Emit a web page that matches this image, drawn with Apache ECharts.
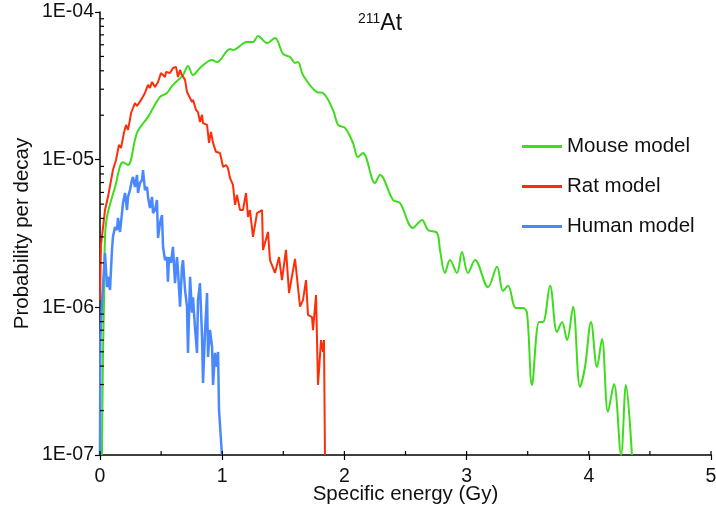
<!DOCTYPE html>
<html>
<head>
<meta charset="utf-8">
<script src="https://cdn.jsdelivr.net/npm/echarts@6/dist/echarts.min.js"></script>
<style>
  html, body { margin: 0; padding: 0; background: #fff; }
  #chart { width: 716px; height: 510px; }
</style>
</head>
<body>
<div id="chart"></div>
<script>
// --- data: [specific energy (Gy), probability per decay] ---
const mouseData = [
  [0.016, 1e-7], [0.025, 5.1e-7], [0.033, 1.1e-6], [0.04, 2.86e-6], [0.057, 4.1e-6],
  [0.123, 6.5e-6], [0.188, 9.6e-6], [0.229, 9.2e-6], [0.303, 1.52e-5], [0.393, 1.95e-5],
  [0.491, 2.66e-5], [0.548, 2.83e-5], [0.597, 3.21e-5], [0.679, 3.74e-5], [0.72, 4.3e-5],
  [0.761, 3.74e-5], [0.818, 4.18e-5], [0.917, 4.73e-5], [0.957, 4.58e-5], [1.064, 5.62e-5],
  [1.088, 5.53e-5], [1.203, 6.26e-5], [1.252, 6.26e-5], [1.293, 6.89e-5], [1.367, 6.17e-5],
  [1.432, 6.67e-5], [1.498, 5.2e-5], [1.555, 4.96e-5], [1.596, 4.52e-5], [1.62, 4.58e-5],
  [1.661, 3.74e-5], [1.776, 2.87e-5], [1.825, 2.83e-5], [1.907, 2.17e-5], [1.948, 1.72e-5],
  [2.005, 1.64e-5], [2.07, 1.3e-5], [2.111, 1.04e-5], [2.152, 1.11e-5], [2.25, 6.95e-6],
  [2.291, 7.87e-6], [2.398, 5.33e-6], [2.455, 5.09e-6], [2.561, 3.45e-6], [2.635, 3.91e-6],
  [2.684, 3.34e-6], [2.758, 3.19e-6], [2.782, 2.45e-6], [2.823, 1.71e-6], [2.864, 2.09e-6],
  [2.921, 1.71e-6], [2.962, 2.37e-6], [3.011, 1.71e-6], [3.069, 2.09e-6], [3.175, 1.37e-6],
  [3.249, 1.88e-6], [3.298, 1.29e-6], [3.339, 1.4e-6], [3.404, 9.9e-7], [3.462, 9.9e-7],
  [3.494, 9.2e-7], [3.535, 2.98e-7], [3.593, 7.96e-7], [3.625, 7.96e-7], [3.683, 1.4e-6],
  [3.74, 6.8e-7], [3.781, 7.96e-7], [3.822, 6.0e-7], [3.871, 1.01e-6], [3.928, 2.89e-7],
  [3.969, 3.95e-7], [4.018, 7.96e-7], [4.067, 3.95e-7], [4.108, 6.1e-7], [4.157, 1.96e-7],
  [4.206, 3.03e-7], [4.264, 1e-7], [4.304, 2.98e-7], [4.353, 1e-7]
];

const ratData = [
  [0.0, 1.12e-6], [0.008, 2.64e-6], [0.041, 4.56e-6], [0.065, 5.58e-6], [0.106, 8.51e-6],
  [0.131, 9.95e-6], [0.155, 1.26e-5], [0.172, 1.2e-5], [0.18, 1.3e-5], [0.196, 1.52e-5],
  [0.213, 1.72e-5], [0.229, 1.59e-5], [0.245, 1.86e-5], [0.254, 2.07e-5], [0.286, 2.42e-5],
  [0.303, 2.31e-5], [0.336, 2.54e-5], [0.368, 2.83e-5], [0.393, 3.21e-5], [0.409, 3.06e-5],
  [0.426, 3.36e-5], [0.45, 3.1e-5], [0.475, 3.36e-5], [0.499, 3.86e-5], [0.532, 3.63e-5],
  [0.54, 3.93e-5], [0.573, 3.86e-5], [0.597, 4.18e-5], [0.622, 4.25e-5], [0.638, 3.63e-5],
  [0.655, 4.05e-5], [0.671, 3.74e-5], [0.696, 3.47e-5], [0.712, 2.87e-5], [0.728, 2.96e-5],
  [0.753, 2.46e-5], [0.761, 2.54e-5], [0.786, 2.17e-5], [0.802, 2.1e-5], [0.818, 1.8e-5],
  [0.835, 2.01e-5], [0.843, 1.77e-5], [0.876, 1.72e-5], [0.892, 1.3e-5], [0.908, 1.54e-5],
  [0.925, 1.3e-5], [0.949, 1.13e-5], [0.982, 1.11e-5], [1.007, 8.93e-6], [1.031, 9.2e-6],
  [1.047, 8.79e-6], [1.064, 7.52e-6], [1.088, 6.75e-6], [1.105, 4.94e-6], [1.121, 5.77e-6],
  [1.146, 4.56e-6], [1.17, 4.56e-6], [1.195, 5.95e-6], [1.211, 4.09e-6], [1.227, 4.56e-6],
  [1.252, 3.0e-6], [1.285, 4.35e-6], [1.326, 4.56e-6], [1.334, 2.45e-6], [1.375, 3.24e-6],
  [1.391, 2.09e-6], [1.432, 1.71e-6], [1.465, 2.19e-6], [1.489, 1.53e-6], [1.522, 2.45e-6],
  [1.547, 1.25e-6], [1.596, 2.13e-6], [1.637, 1.01e-6], [1.661, 1.12e-6], [1.686, 1.53e-6],
  [1.702, 8.9e-7], [1.735, 8.6e-7], [1.743, 7.0e-7], [1.768, 1.21e-6], [1.784, 2.98e-7],
  [1.809, 6.0e-7], [1.825, 4.99e-7], [1.833, 6.0e-7], [1.841, 1e-7]
];

const humanData = [
  [0.0, 1e-7], [0.003, 6.0e-7], [0.016, 1.07e-6], [0.041, 2.33e-6], [0.057, 1.37e-6],
  [0.065, 1.61e-6], [0.082, 1.31e-6], [0.098, 2.45e-6], [0.106, 3.0e-6], [0.123, 3.5e-6],
  [0.139, 3.34e-6], [0.147, 4.03e-6], [0.164, 3.24e-6], [0.18, 4.35e-6], [0.188, 5.09e-6],
  [0.205, 5.95e-6], [0.221, 4.56e-6], [0.229, 5.58e-6], [0.245, 6.23e-6], [0.262, 7.29e-6],
  [0.27, 7.64e-6], [0.286, 6.53e-6], [0.303, 7.87e-6], [0.311, 5.95e-6], [0.327, 6.95e-6],
  [0.344, 7.29e-6], [0.352, 8.51e-6], [0.368, 6.23e-6], [0.385, 6.53e-6], [0.393, 5.58e-6],
  [0.409, 4.71e-6], [0.426, 5.58e-6], [0.434, 4.35e-6], [0.45, 4.56e-6], [0.466, 5.33e-6],
  [0.475, 2.95e-6], [0.491, 3.72e-6], [0.507, 4.22e-6], [0.516, 2.57e-6], [0.532, 2.09e-6],
  [0.548, 2.19e-6], [0.556, 1.49e-6], [0.565, 2.19e-6], [0.581, 2.0e-6], [0.597, 2.57e-6],
  [0.614, 1.46e-6], [0.63, 2.19e-6], [0.638, 1.79e-6], [0.655, 1.01e-6], [0.671, 1.88e-6],
  [0.679, 2.09e-6], [0.696, 1.31e-6], [0.712, 1.01e-6], [0.72, 4.91e-7], [0.737, 1.61e-6],
  [0.753, 9.2e-7], [0.761, 1.17e-6], [0.777, 7.36e-7], [0.794, 4.91e-7], [0.802, 1.12e-6],
  [0.818, 1.46e-6], [0.835, 6.31e-7], [0.843, 3.08e-7], [0.859, 6.71e-7], [0.876, 1.25e-6],
  [0.884, 4.61e-7], [0.9, 7.03e-7], [0.917, 5.4e-7], [0.925, 2.98e-7], [0.941, 4.91e-7],
  [0.957, 3.95e-7], [0.966, 4.99e-7], [0.974, 2.02e-7], [0.99, 2.02e-7], [0.998, 1e-7]
];

const seriesNames = ['Mouse model', 'Rat model', 'Human model'];
const seriesColors = ['#3fdc1e', '#ff2e0a', '#4a88ff'];

const xMin = 0, xMax = 5, xStep = 1;
const yMin = 1e-7, yMax = 1e-4;

const FONT = '"Liberation Sans", Arial, sans-serif';

// minor tick positions (ticks drawn through the axes' own scales)
const yMinorTicks = [];
for (let d = -7; d < -4; d++) {
  for (let m = 2; m <= 9; m++) yMinorTicks.push([xMin, m * Math.pow(10, d)]);
}
const xMinorTicks = [];
for (let x = xMin; x <= xMax; x += 0.5) xMinorTicks.push([x, yMin]);

function expLabel(v) {
  const e = Math.round(Math.log10(v));
  return '1E-' + String(-e).padStart(2, '0');
}

const chart = echarts.init(document.getElementById('chart'));

chart.setOption({
  animation: false,
  backgroundColor: '#fff',
  textStyle: { fontFamily: FONT },
  title: {
    text: '{s|211}{a|At}',
    left: 353,
    top: 7,
    textStyle: {
      fontWeight: 'normal',
      rich: {
        s: { fontSize: 14, color: '#111', fontFamily: FONT, fontWeight: 'normal', padding: [0, 0, 10, 0] },
        a: { fontSize: 23, color: '#111', fontFamily: FONT, fontWeight: 'normal' }
      }
    }
  },
  legend: {
    orient: 'vertical',
    left: 517,
    top: 131,
    itemWidth: 40,
    itemHeight: 3,
    itemGap: 19,
    icon: 'rect',
    data: seriesNames,
    textStyle: { fontSize: 20.5, color: '#111', fontFamily: FONT, padding: [0, 0, 0, 0] }
  },
  grid: { left: 100, right: 5, top: 12, bottom: 55, containLabel: false, outerBoundsMode: 'none' },
  xAxis: {
    type: 'value',
    min: xMin,
    max: xMax,
    interval: xStep,
    name: 'Specific energy (Gy)',
    nameLocation: 'middle',
    nameGap: 29,
    nameMoveOverlap: false,
    nameTextStyle: { fontSize: 20.5, color: '#111', fontFamily: FONT },
    axisLine: { lineStyle: { color: '#000', width: 1.5 } },
    axisTick: { length: 5, lineStyle: { color: '#000', width: 1.2 } },
    axisLabel: { fontSize: 19.5, color: '#111', margin: 12, fontFamily: FONT },
    splitLine: { show: false }
  },
  yAxis: {
    type: 'log',
    logBase: 10,
    min: yMin,
    max: yMax,
    name: 'Probability per decay',
    nameLocation: 'middle',
    nameGap: 67,
    nameMoveOverlap: false,
    nameTextStyle: { fontSize: 20.5, color: '#111', fontFamily: FONT },
    axisLine: { show: true, lineStyle: { color: '#000', width: 1.5 } },
    axisTick: { length: 5, lineStyle: { color: '#000', width: 1.2 } },
    axisLabel: { fontSize: 19.5, color: '#111', margin: 6, fontFamily: FONT, formatter: expLabel },
    splitLine: { show: false }
  },
  series: [
    {
      name: seriesNames[0], type: 'line', data: mouseData, smooth: 0.35,
      showSymbol: false, symbol: 'none', color: seriesColors[0],
      lineStyle: { color: seriesColors[0], width: 2 }, z: 3
    },
    {
      name: seriesNames[1], type: 'line', data: ratData,
      showSymbol: false, symbol: 'none', color: seriesColors[1],
      lineStyle: { color: seriesColors[1], width: 2 }, z: 4
    },
    {
      name: seriesNames[2], type: 'line', data: humanData,
      showSymbol: false, symbol: 'none', color: seriesColors[2],
      lineStyle: { color: seriesColors[2], width: 2.5 }, z: 5
    },
    {
      // y minor ticks, pointing into the plot
      type: 'custom', silent: true, clip: false, z: 6,
      data: yMinorTicks,
      renderItem: (params, api) => {
        const p = api.coord([api.value(0), api.value(1)]);
        return { type: 'line', shape: { x1: p[0], y1: p[1], x2: p[0] + 4, y2: p[1] },
                 style: { stroke: '#000', lineWidth: 1.2 } };
      }
    },
    {
      // x ticks: inner half at integers and halves
      type: 'custom', silent: true, clip: false, z: 6,
      data: xMinorTicks,
      renderItem: (params, api) => {
        const p = api.coord([api.value(0), api.value(1)]);
        return { type: 'line', shape: { x1: p[0], y1: p[1], x2: p[0], y2: p[1] - 4 },
                 style: { stroke: '#000', lineWidth: 1.2 } };
      }
    }
  ]
});
</script>
</body>
</html>
